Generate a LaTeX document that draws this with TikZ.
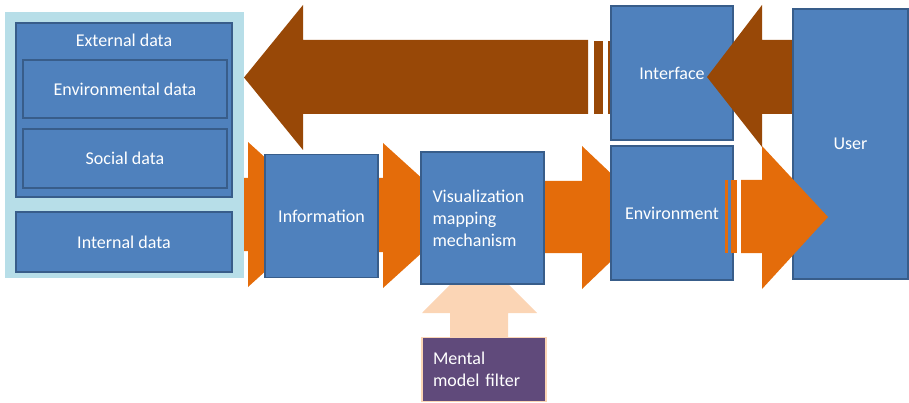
\documentclass[tikz,border=0pt]{standalone}
\usepackage{fontspec}
\setmainfont{Carlito}
\definecolor{bfill}{HTML}{4F81BD}
\definecolor{bline}{HTML}{385D8A}
\definecolor{lblue}{HTML}{B7DEE8}
\definecolor{brown}{HTML}{984807}
\definecolor{orng}{HTML}{E46C0A}
\definecolor{peach}{HTML}{FBD5B5}
\definecolor{purp}{HTML}{604A7B}
\tikzset{
  blubox/.style={draw=bline, fill=bfill, line width=1.6pt, text=white, font=\fontsize{18}{22}\selectfont, inner sep=0pt},
  lbl/.style={text=white, font=\fontsize{18}{22}\selectfont, inner sep=0pt},
  brownshape/.style={fill=brown},
  orangeshape/.style={fill=orng},
  stripe/.style={fill=orng},
  bstripe/.style={fill=brown, draw=white, line width=0.6pt},
}
\begin{document}
\begin{tikzpicture}[x=1pt,y=-1pt]
\useasboundingbox (0,0) rectangle (909,403);
% background panel
\node[fill=lblue, minimum width=239pt, minimum height=266pt, inner sep=0pt] (bg) at (124.5,145) {};
\node[blubox, minimum width=216pt, minimum height=174pt] (ext) at (124,110) {};
\node[lbl] (extlbl) at (124,40) {External data};
\node[blubox, minimum width=204pt, minimum height=58pt] (envd) at (125,89) {Environmental data};
\node[blubox, minimum width=204pt, minimum height=59pt] (soc) at (125,158.5) {Social data};
\node[blubox, minimum width=216pt, minimum height=60pt] (int) at (124,242) {Internal data};
% big brown arrow to the data
\fill[brownshape] (244,77.5) -- (303,5) -- (303,40) -- (588,40) -- (588,114) -- (303,114) -- (303,150) -- cycle;
\filldraw[bstripe] (593,40) rectangle (603,114);
\filldraw[bstripe] (607,40) rectangle (613,114);
% orange arrows
\fill[orangeshape] (244,178) -- (248,178) -- (248,142) -- (328,214.5) -- (248,287) -- (248,251) -- (244,251) -- cycle;
\fill[orangeshape] (375,178) -- (383,178) -- (383,143) -- (463,215.5) -- (383,288) -- (383,252) -- (375,252) -- cycle;
\fill[orangeshape] (540,181) -- (582,181) -- (582,146) -- (657,217) -- (582,289) -- (582,253) -- (540,253) -- cycle;
% peach up arrow
\fill[peach] (450,340) -- (450,313) -- (422,313) -- (479.5,255) -- (537,313) -- (508,313) -- (508,340) -- cycle;
% boxes of the chain
\node[blubox, minimum width=113pt, minimum height=123pt] (info) at (321.5,216) {Information};
\node[blubox, minimum width=123pt, minimum height=132pt, text width=100pt, inner xsep=11.5pt, align=left] (viz) at (482.5,218) {Visualization\\mapping\\mechanism};
\node[draw=peach, fill=purp, line width=1.6pt, text=white, font=\fontsize{18}{22}\selectfont, minimum width=124pt, minimum height=64pt, text width=102pt, inner xsep=11pt, inner ysep=0pt, align=left] (mental) at (484,369.5) {Mental\\model filter};
\node[blubox, minimum width=122pt, minimum height=134pt] (iface) at (672,73) {Interface};
\node[blubox, minimum width=122pt, minimum height=134pt] (envn) at (672,213) {Environment};
% brown arrow from user to interface
\fill[brownshape] (707,77) -- (762,5) -- (762,40) -- (800,40) -- (800,114) -- (762,114) -- (762,147) -- cycle;
\node[blubox, minimum width=115pt, minimum height=270pt] (user) at (850.5,144) {User};
% orange arrow to user
\fill[stripe] (725,180) rectangle (728,253);
\fill[stripe] (731,180) rectangle (737,253);
\fill[orangeshape] (741,180) -- (762,180) -- (762,146) -- (828,217) -- (762,289) -- (762,253) -- (741,253) -- cycle;
\end{tikzpicture}
\end{document}
